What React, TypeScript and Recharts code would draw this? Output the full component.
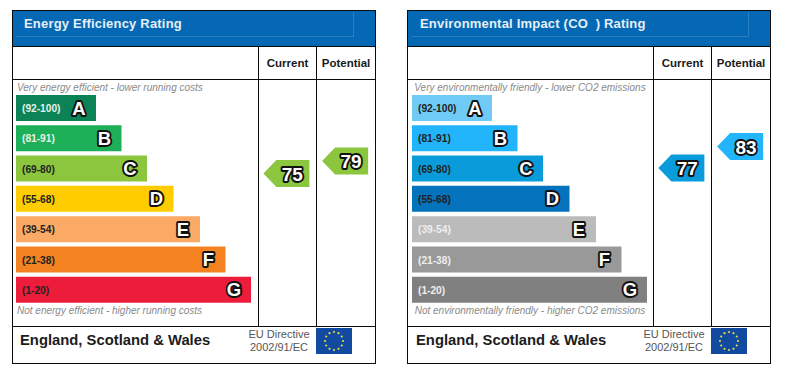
import React from 'react';
import { Bar, BarChart, Cell, LabelList, Scatter, ScatterChart, XAxis, YAxis } from 'recharts';

const bands = ['A', 'B', 'C', 'D', 'E', 'F', 'G'];
const ranges = ['(92-100)', '(81-91)', '(69-80)', '(55-68)', '(39-54)', '(21-38)', '(1-20)'];
const bandLengths = [80, 105.5, 131, 157.5, 184, 209.5, 235];

const columns = ['Current', 'Potential'];
const energyRatings = [75, 79];
const co2Ratings = [77, 83];

const energyColors = ['#0b8356', '#1db058', '#8cc63f', '#ffcc00', '#fbaa65', '#f58220', '#ee1c3b'];
const energyLabelColors = ['#e8f2ea', '#e8f2ea', '#222', '#222', '#222', '#222', '#222'];
const co2Colors = ['#6fcbf5', '#22b5fb', '#0a9bdb', '#0472bc', '#bbbbbb', '#999999', '#808080'];
const co2LabelColors = ['#222', '#222', '#222', '#222', '#eee', '#eee', '#eee'];

const font = '"Liberation Sans", Arial, sans-serif';
const line = '#0a0a0a';

const outlined = {
  fontFamily: font,
  fontWeight: 700,
  fill: '#fff',
  stroke: '#111',
  strokeWidth: 3.8,
  paintOrder: 'stroke',
  strokeLinejoin: 'round',
} as const;

const Flag = ({ left }: { left: number }) => {
  const stars = Array.from({ length: 12 }, (_, i) => i);
  return (
    <svg style={{ position: 'absolute', left, top: 328, width: 36, height: 26 }}>
      <rect width={36} height={26} fill="#114a9f" />
      {stars.map((i) => (
        <circle
          key={i}
          cx={18 + 9 * Math.cos((i * Math.PI) / 6)}
          cy={13 + 9 * Math.sin((i * Math.PI) / 6)}
          r={1.1}
          fill="#e8d84a"
        />
      ))}
    </svg>
  );
};

type PanelProps = {
  left: number;
  shift: number;
  title: string;
  topNote: string;
  bottomNote: string;
  ratings: number[];
  colors: string[];
  labelColors: string[];
  arrowColors: string[];
  ratingTop: number;
  ratingBottom: number;
};

const Panel = ({
  left,
  shift,
  title,
  topNote,
  bottomNote,
  ratings,
  colors,
  labelColors,
  arrowColors,
  ratingTop,
  ratingBottom,
}: PanelProps) => {
  const rows = bands.map((band, i) => ({ band, range: ranges[i], length: bandLengths[i] }));
  const points = columns.map((column, i) => ({ column, rating: ratings[i], fill: arrowColors[i] }));

  const rule = (style: React.CSSProperties) => (
    <div style={{ position: 'absolute', background: line, ...style }} />
  );
  const text = (style: React.CSSProperties, value: React.ReactNode) => (
    <div style={{ position: 'absolute', fontFamily: font, whiteSpace: 'nowrap', ...style }}>{value}</div>
  );
  const note = { left: 12, width: 246, boxSizing: 'border-box', fontSize: 10, fontStyle: 'italic', color: '#8a8a8a', lineHeight: '12px', textAlign: shift ? 'center' : 'left', paddingLeft: shift ? 0 : 5 } as React.CSSProperties;

  return (
    <div style={{ position: 'absolute', left, top: 0, width: 395, height: 375 }}>
      <div style={{ position: 'absolute', left: 12, top: 10, width: 364, height: 36, background: '#0468b4' }} />
      <div
        style={{
          position: 'absolute',
          left: 16,
          top: 12,
          width: 337,
          height: 24,
          borderRight: '1px solid #2a7fc0',
          borderBottom: '1px solid #2a7fc0',
        }}
      />
      {rule({ left: 12, top: 10, width: 364, height: 1 })}
      {rule({ left: 12, top: 46, width: 364, height: 1 })}
      {rule({ left: 12, top: 79, width: 364, height: 1 })}
      {rule({ left: 12, top: 326, width: 364, height: 1 })}
      {rule({ left: 12, top: 363, width: 364, height: 1 })}
      {rule({ left: 12, top: 10, width: 1, height: 354 })}
      {rule({ left: 375, top: 10, width: 1, height: 354 })}
      {rule({ left: 258, top: 46, width: 1, height: 280 })}
      {rule({ left: 316, top: 46, width: 1, height: 280 })}

      {text(
        { left: 24 + shift, top: 16, fontSize: 13, fontWeight: 700, color: '#e6eff7', letterSpacing: 0.2, lineHeight: '16px', whiteSpace: 'pre' },
        title,
      )}
      {text({ left: 258, width: 59, top: 56, textAlign: 'center', fontSize: 11.5, fontWeight: 700, color: '#1a1a1a', lineHeight: '14px' }, columns[0])}
      {text({ left: 316, width: 60, top: 56, textAlign: 'center', fontSize: 11.5, fontWeight: 700, color: '#1a1a1a', lineHeight: '14px' }, columns[1])}
      {text({ ...note, top: 81.5 }, topNote)}
      {text({ ...note, top: 304.5 }, bottomNote)}
      {text({ left: 20 + shift, top: 331, fontSize: 14.8, fontWeight: 700, color: '#1c1c1c', lineHeight: '18px' }, 'England, Scotland & Wales')}
      {text({ left: 240, width: 78, top: 328, textAlign: 'center', fontSize: 11, color: '#555', lineHeight: '13px' }, (
        <>
          EU Directive
          <br />
          2002/91/EC
        </>
      ))}
      <Flag left={316} />

      <div style={{ position: 'absolute', left: 0, top: 0 }}>
        <BarChart
          width={395}
          height={375}
          data={rows}
          layout="vertical"
          barCategoryGap={0}
          margin={{ top: 93, bottom: 70, left: 16 + shift, right: 129 - shift }}
        >
          <XAxis type="number" hide domain={[0, 250]} />
          <YAxis type="category" dataKey="band" hide />
          <Bar dataKey="length" barSize={26} isAnimationActive={false}>
            {rows.map((row, i) => (
              <Cell key={row.band} fill={colors[i]} />
            ))}
            <LabelList
              dataKey="range"
              content={(p: any) => (
                <text
                  x={p.x + 6}
                  y={p.y + p.height / 2 + 4.2}
                  fontFamily={font}
                  fontWeight={700}
                  fontSize={10.2}
                  fill={labelColors[p.index]}
                >
                  {p.value}
                </text>
              )}
            />
            <LabelList
              dataKey="band"
              content={(p: any) => (
                <text
                  x={p.x + p.width - 17}
                  y={p.y + p.height / 2 + 6.6}
                  textAnchor="middle"
                  fontSize={18.5}
                  {...outlined}
                >
                  {p.value}
                </text>
              )}
            />
          </Bar>
        </BarChart>
      </div>

      <div style={{ position: 'absolute', left: 0, top: 0 }}>
        <ScatterChart
          width={395}
          height={375}
          margin={{ top: ratingTop, bottom: 375 - ratingBottom, left: 257, right: 20.5 }}
        >
          <XAxis type="category" dataKey="column" hide allowDuplicatedCategory={false} />
          <YAxis type="number" dataKey="rating" hide domain={[60, 100]} />
          <Scatter
            data={points}
            isAnimationActive={false}
            shape={(p: any) => {
              const x = p.cx - 23;
              const y = p.cy - 13.5;
              return (
                <g>
                  <polygon
                    points={`${x},${p.cy} ${x + 13},${y} ${x + 46},${y} ${x + 46},${y + 27} ${x + 13},${y + 27}`}
                    fill={p.payload?.fill ?? p.fill}
                  />
                  <text x={p.cx + 6} y={p.cy + 7} textAnchor="middle" fontSize={19} {...outlined}>
                    {p.rating}
                  </text>
                </g>
              );
            }}
          />
        </ScatterChart>
      </div>
    </div>
  );
};

export default function App() {
  return (
    <div style={{ position: 'absolute', left: 0, top: 0, width: 790, height: 375, background: '#fff', overflow: 'hidden' }}>
      <Panel
        left={0}
        shift={0}
        title="Energy Efficiency Rating"
        topNote="Very energy efficient - lower running costs"
        bottomNote="Not energy efficient - higher running costs"
        ratings={energyRatings}
        colors={energyColors}
        labelColors={energyLabelColors}
        arrowColors={['#8cc63f', '#8cc63f']}
        ratingTop={95.4}
        ratingBottom={220.4}
      />
      <Panel
        left={395}
        shift={1}
        title="Environmental Impact (CO  ) Rating"
        topNote="Very environmentally friendly - lower CO2 emissions"
        bottomNote="Not environmentally friendly - higher CO2 emissions"
        ratings={co2Ratings}
        colors={co2Colors}
        labelColors={co2LabelColors}
        arrowColors={['#0a9bdb', '#22b5fb']}
        ratingTop={85.6}
        ratingBottom={228.9}
      />
    </div>
  );
}
